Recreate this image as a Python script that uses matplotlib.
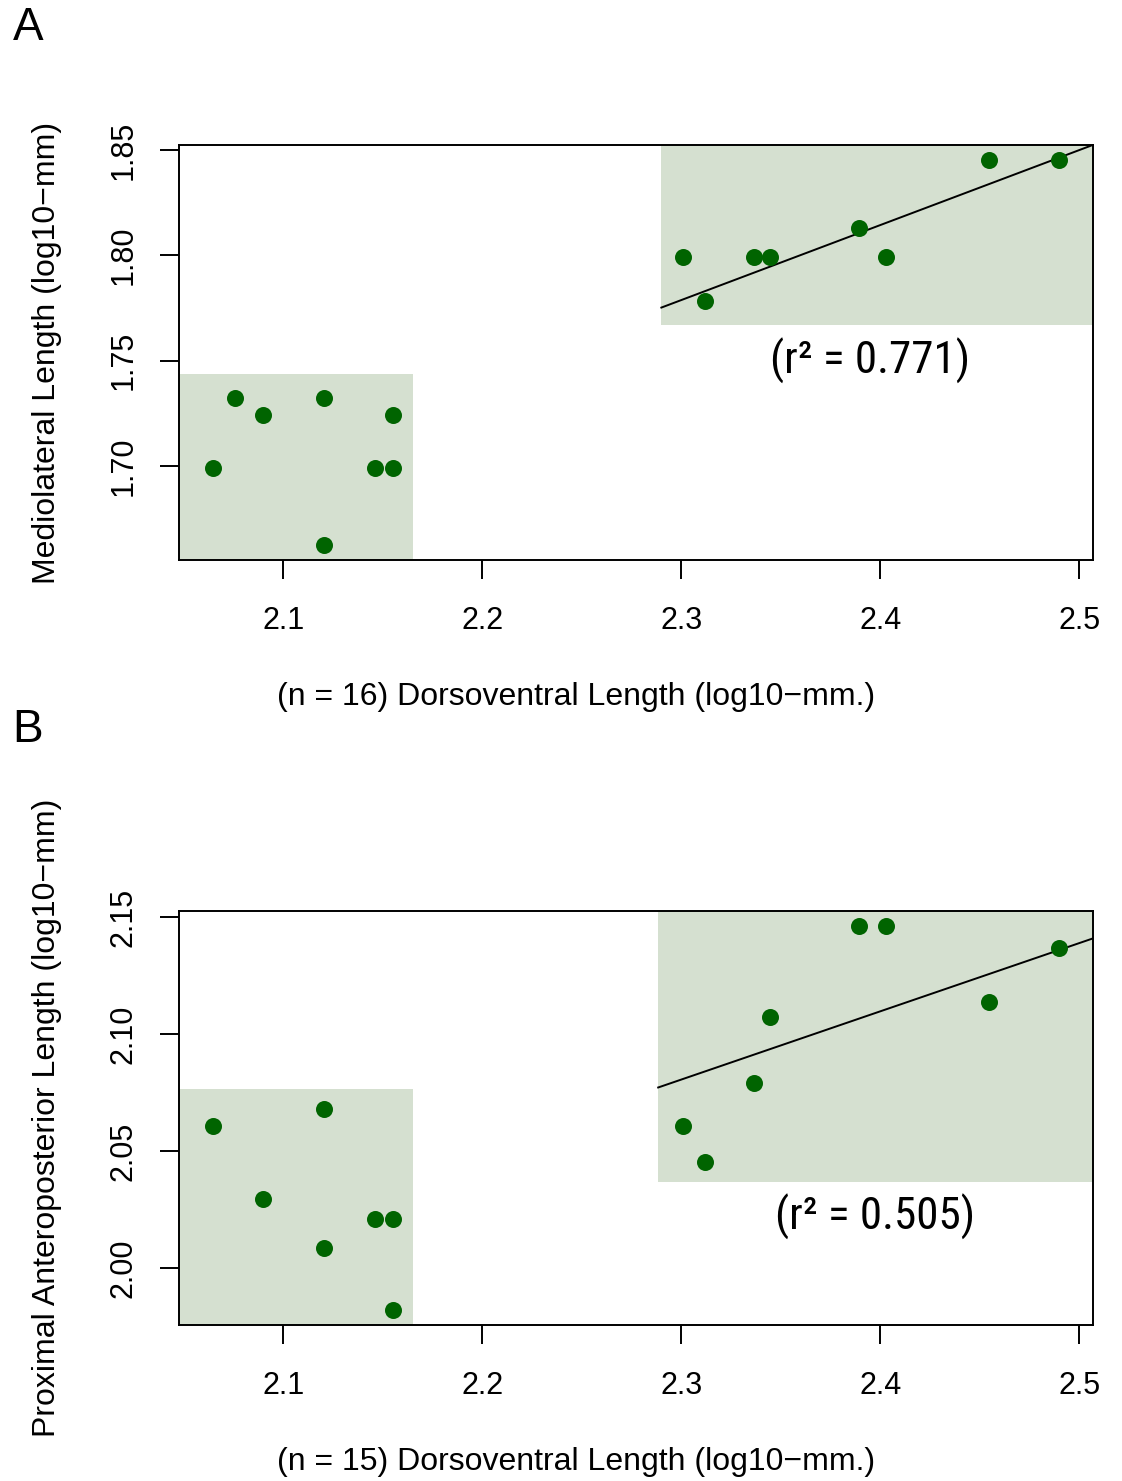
import matplotlib
matplotlib.use("Agg")
import matplotlib.pyplot as plt
from matplotlib.patches import Rectangle
from matplotlib import font_manager
import numpy as np

# dorsoventral length (log10 mm) for each specimen
dv_a = [2.0645, 2.0755, 2.0899, 2.1206, 2.1206, 2.1461, 2.1553, 2.1553,
        2.3010, 2.3118, 2.3365, 2.3444, 2.3892, 2.4031, 2.4548, 2.4900]
ml_a = [1.6990, 1.7324, 1.7243, 1.7324, 1.6628, 1.6990, 1.6990, 1.7243,
        1.7993, 1.7782, 1.7993, 1.7993, 1.8129, 1.7993, 1.8451, 1.8451]

dv_b = [2.0645, 2.0899, 2.1206, 2.1206, 2.1461, 2.1553, 2.1553,
        2.3010, 2.3118, 2.3365, 2.3444, 2.3892, 2.4031, 2.4548, 2.4900]
ap_b = [2.0607, 2.0294, 2.0682, 2.0086, 2.0212, 2.0212, 1.9823,
        2.0607, 2.0453, 2.0792, 2.1072, 2.1461, 2.1461, 2.1139, 2.1367]

# regression lines (intercept, slope) and r2 values
fit_a = (0.9607, 0.3557)
fit_b = (1.4104, 0.2914)
r2_a = 0.771
r2_b = 0.505

# shaded groups: (x0, x1, y0, y1), None = axis edge
shade_a = [(None, 2.1653, None, 1.7439), (2.290, None, 1.7670, None)]
shade_b = [(None, 2.1653, None, 2.0766), (2.2884, None, 2.0368, None)]

xticks = [2.1, 2.2, 2.3, 2.4, 2.5]
yticks_a = [1.70, 1.75, 1.80, 1.85]
yticks_b = [2.00, 2.05, 2.10, 2.15]

plt.rcParams['font.family'] = ['Liberation Sans', 'DejaVu Sans']

# a narrow face for the r2 notes if one is around
names = {f.name for f in font_manager.fontManager.ttflist}
r2_font, r2_size = 'Liberation Sans', 29
for cand in ['Liberation Sans Narrow', 'Roboto Condensed', 'Open Sans Condensed']:
    if cand in names:
        r2_font, r2_size = cand, 32.5
        break

dot_col = '#006400'
shade_col = '#d5e0d0'


def draw_panel(ax, x, y, fit, r2, shades, yticks, ylabel, xlabel, r2_pos):
    ax.scatter(x, y, s=150, color=dot_col, zorder=3, linewidths=0)
    ax.margins(0.04)
    xl = ax.get_xlim()
    yl = ax.get_ylim()
    for x0, x1, y0, y1 in shades:
        x0 = xl[0] if x0 is None else x0
        x1 = xl[1] if x1 is None else x1
        y0 = yl[0] if y0 is None else y0
        y1 = yl[1] if y1 is None else y1
        ax.add_patch(Rectangle((x0, y0), x1 - x0, y1 - y0, facecolor=shade_col,
                               edgecolor='none', zorder=1))
    up = shades[1]
    lx = np.array([up[0], xl[1]])
    ax.plot(lx, fit[0] + fit[1] * lx, color='black', lw=1.4, zorder=2)
    ax.set_xlim(xl)
    ax.set_ylim(yl)

    ax.set_xticks(xticks)
    ax.set_xticklabels([f'{t:.1f}' for t in xticks], fontsize=22)
    ax.set_yticks(yticks)
    ax.set_yticklabels([f'{t:.2f}' for t in yticks], fontsize=22,
                       rotation=90, va='center')
    ax.tick_params(length=14, width=1.4, direction='out')
    ax.tick_params(axis='x', pad=19)
    ax.tick_params(axis='y', pad=15)
    for s in ax.spines.values():
        s.set_linewidth(1.4)

    ax.set_ylabel(ylabel, fontsize=23, va='center')
    ax.yaxis.set_label_coords(-0.1444, 0.5)
    ax.set_xlabel(xlabel, fontsize=23, va='center')
    ax.xaxis.set_label_coords(0.434, -0.33)

    ax.text(r2_pos[0], r2_pos[1], f'(r\u00b2 = {r2:.3f})', fontsize=r2_size,
            family=r2_font, ha='center', va='center', zorder=4)


fig = plt.figure(figsize=(11.22, 14.81), dpi=100)
ax_a = fig.add_axes([0.1595, 0.6219, 0.8147, 0.2802])
ax_b = fig.add_axes([0.1595, 0.1053, 0.8147, 0.2796])

draw_panel(ax_a, dv_a, ml_a, fit_a, r2_a, shade_a, yticks_a,
           'Mediolateral Length (log10\u2212mm)',
           '(n = 16) Dorsoventral Length (log10\u2212mm.)', (2.395, 1.750))
draw_panel(ax_b, dv_b, ap_b, fit_b, r2_b, shade_b, yticks_b,
           'Proximal Anteroposterior Length (log10\u2212mm)',
           '(n = 15) Dorsoventral Length (log10\u2212mm.)', (2.3975, 2.022))

fig.text(28 / 1122, 1 - 28 / 1481, 'A', fontsize=33, ha='center', va='center')
fig.text(28 / 1122, 1 - 730 / 1481, 'B', fontsize=33, ha='center', va='center')

fig.savefig('out.png', dpi=100)
